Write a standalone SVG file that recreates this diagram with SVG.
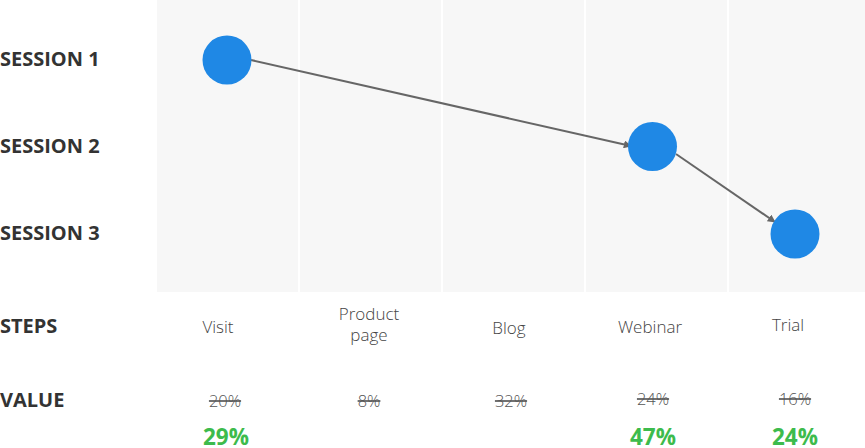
<svg xmlns="http://www.w3.org/2000/svg" width="865" height="448" viewBox="0 0 865 448">
<style>
.lab{font-family:"Open Sans","Liberation Sans",sans-serif;font-weight:700;font-size:20px;fill:#333}
.step{font-family:"Open Sans","Liberation Sans",sans-serif;font-weight:300;font-size:17px;fill:#444;text-anchor:middle}
.old{font-family:"Open Sans","Liberation Sans",sans-serif;font-weight:300;font-size:16.5px;fill:#555;text-anchor:middle;text-decoration:line-through}
.new{font-family:"Open Sans","Liberation Sans",sans-serif;font-weight:700;font-size:22.5px;fill:#3dbb4c;text-anchor:middle}
.node{fill:#1f88e5}
.conn{stroke:#666;stroke-width:2;fill:none;marker-end:url(#ah)}
.col{fill:#f7f7f7}
</style>
<defs>
<marker id="ah" viewBox="0 0 10 10" refX="9" refY="5" markerWidth="8" markerHeight="8" orient="auto" markerUnits="userSpaceOnUse">
<path d="M0,0 L10,5 L0,10 z" fill="#666"/>
</marker>
</defs>
<g id="background">
<rect class="col" x="157" y="0" width="141" height="292"/>
<rect class="col" x="300" y="0" width="141" height="292"/>
<rect class="col" x="443" y="0" width="141" height="292"/>
<rect class="col" x="586" y="0" width="141" height="292"/>
<rect class="col" x="729" y="0" width="136" height="292"/>
</g>
<g id="row-labels">
<text class="lab" x="0" y="66">SESSION 1</text>
<text class="lab" x="0" y="153">SESSION 2</text>
<text class="lab" x="0" y="240">SESSION 3</text>
<text class="lab" x="0" y="333">STEPS</text>
<text class="lab" x="0" y="407">VALUE</text>
</g>
<g id="connectors">
<line class="conn" x1="251" y1="60" x2="631" y2="146"/>
<line class="conn" x1="676" y1="154" x2="775" y2="222"/>
</g>
<g id="node-1"><circle class="node" cx="227" cy="60" r="24.5"/></g>
<g id="node-2"><circle class="node" cx="652.5" cy="146.5" r="24.5"/></g>
<g id="node-3"><circle class="node" cx="795" cy="234" r="24.5"/></g>
<g id="steps">
<text class="step" x="218" y="333">Visit</text>
<text class="step" x="369" y="320">Product</text>
<text class="step" x="369" y="341">page</text>
<text class="step" x="509" y="334">Blog</text>
<text class="step" x="650" y="333">Webinar</text>
<text class="step" x="788" y="331">Trial</text>
</g>
<g id="values">
<text class="old" x="225" y="407">20%</text>
<text class="old" x="369" y="407">8%</text>
<text class="old" x="511" y="407">32%</text>
<text class="old" x="653" y="405">24%</text>
<text class="old" x="795" y="405">16%</text>
<text class="new" x="226" y="445">29%</text>
<text class="new" x="653" y="445">47%</text>
<text class="new" x="795" y="445">24%</text>
</g>
</svg>
